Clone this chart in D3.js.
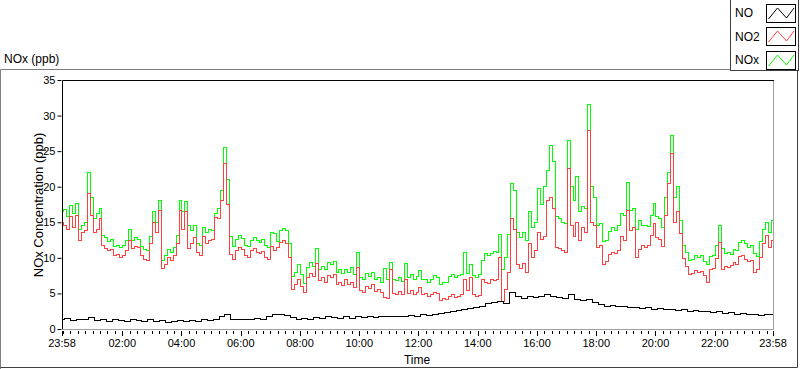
<!DOCTYPE html>
<html>
<head>
<meta charset="utf-8">
<script src="https://d3js.org/d3.v7.min.js"></script>
<style>
  body { margin: 0; background: #fff; }
  text { font-family: "Liberation Sans", Arial, sans-serif; fill: #000; }
</style>
</head>
<body>
<div id="chart"></div>
<script>
// series names / colours as in the legend
var seriesNames = ["NO", "NO2", "NOx"];
var seriesColors = ["#000000", "#ff4040", "#00ff00"];

// time base: first sample at 23:58, samples every N minutes
var startTime = "2000-01-01 23:58";
var endTime = "2000-01-02 23:58";
var stepNO = 12;
var stepNO2 = 6;
var stepNOx = 6;

var xTickLabels = ["23:58", "02:00", "04:00", "06:00", "08:00", "10:00", "12:00",
                   "14:00", "16:00", "18:00", "20:00", "22:00", "23:58"];
var yTicks = [0, 5, 10, 15, 20, 25, 30, 35];

var noValues = [
  1.3,1.5,1.2,1.4,1.3,1.6,1.2,1.3,1.1,1.3,
  1.2,1.1,1.3,1.2,1.0,1.3,1.1,1.2,0.9,1.1,
  1.2,1.0,1.2,1.1,1.3,1.2,1.4,1.7,2.1,1.4,
  1.3,1.4,1.3,1.5,1.4,1.8,2.1,2.0,1.9,1.6,
  1.3,1.5,1.4,1.6,1.5,1.7,1.6,1.5,1.7,1.5,
  1.7,1.6,1.7,1.6,1.8,1.7,1.7,1.8,1.7,1.9,
  1.8,2.0,1.9,2.1,2.2,2.3,2.5,2.6,2.7,2.9,
  3.0,3.2,3.6,3.7,3.9,3.6,5.2,4.6,4.3,4.5,
  4.4,4.6,4.8,4.5,4.4,4.3,4.8,4.2,4.0,4.1,
  3.7,3.4,3.2,3.3,3.1,3.2,3.0,3.0,2.9,3.0,
  2.8,2.9,2.7,2.8,2.6,2.7,2.5,2.6,2.4,2.4,
  2.3,2.4,2.2,2.3,2.1,2.2,2.0,2.1,1.9,2.0,
  2.0
];

var no2Values = [
  15.0,14.5,14.0,15.8,14.3,16.0,12.5,13.5,13.8,19.0,
  16.0,13.5,14.0,15.5,11.8,11.3,11.0,11.2,10.3,10.5,
  10.1,10.4,11.0,12.5,11.3,11.6,11.4,10.3,9.8,9.6,
  12.0,15.0,13.5,16.7,8.5,9.0,10.0,9.6,10.3,12.0,
  16.7,14.0,16.5,11.3,12.0,12.8,10.8,10.3,13.0,12.0,
  12.4,12.6,15.7,15.5,18.0,23.3,17.5,10.5,9.8,11.0,
  11.5,11.2,10.3,10.0,11.1,11.3,10.8,10.6,10.9,10.0,
  9.8,11.6,11.0,11.4,12.2,12.4,12.0,10.0,5.5,6.2,
  7.0,6.0,5.2,7.2,7.8,7.4,9.2,6.8,7.3,6.6,
  7.5,7.2,7.6,6.3,6.6,6.1,6.9,6.2,6.6,5.8,
  8.7,5.4,5.2,6.0,5.7,6.2,5.3,5.6,5.1,4.4,
  4.3,8.3,5.0,4.8,5.3,4.9,6.9,5.0,5.4,4.8,
  5.2,5.8,4.8,5.0,4.6,4.9,5.2,5.0,4.0,4.3,
  4.1,4.6,4.8,4.4,4.5,4.8,6.9,5.4,7.3,4.8,
  4.5,4.7,7.0,6.6,6.4,7.0,6.8,7.0,10.0,3.8,
  5.5,8.0,15.5,14.0,9.0,8.5,9.2,8.0,12.0,10.0,
  11.0,13.5,12.6,13.0,18.0,18.5,17.0,11.5,11.3,11.0,
  10.8,22.5,14.5,13.0,15.0,12.5,14.3,13.5,27.9,15.0,
  14.5,11.5,11.8,9.0,9.5,10.5,10.8,10.6,11.0,13.0,
  12.5,16.7,13.8,14.2,10.0,11.2,11.7,11.5,11.8,13.1,
  14.8,12.9,12.6,11.6,16.0,20.5,24.6,15.0,16.5,13.4,
  9.9,8.8,7.6,7.8,8.2,8.0,8.1,7.5,6.6,8.3,
  8.5,9.9,12.1,8.4,8.8,8.6,8.9,9.3,9.0,10.2,
  10.4,9.8,9.5,9.6,8.0,8.3,10.0,12.0,13.2,11.5,
  12.5
];

var noxValues = [
  16.5,16.8,15.8,17.4,16.2,17.6,14.0,14.6,15.0,22.0,
  18.5,15.5,16.3,17.0,13.2,12.8,12.3,12.6,11.6,11.8,
  11.4,11.7,12.4,14.0,12.4,12.9,12.6,11.6,11.2,11.0,
  13.0,16.5,15.0,18.0,9.6,10.3,11.2,10.8,11.5,13.2,
  18.0,16.5,17.9,14.5,13.8,14.5,12.0,11.8,14.2,13.5,
  14.0,13.8,16.3,17.0,19.5,25.5,21.0,13.0,11.6,12.6,
  13.1,12.7,11.8,11.6,12.5,12.8,12.4,12.2,12.6,11.8,
  11.5,13.6,13.4,12.3,13.8,14.1,13.8,12.0,7.4,8.0,
  9.0,7.6,6.4,8.6,9.3,8.8,11.3,8.4,8.8,8.3,
  9.4,9.0,9.5,8.0,8.3,7.8,8.3,8.0,8.6,7.6,
  10.8,7.2,6.9,7.8,7.4,8.0,7.0,7.3,6.6,8.5,
  6.9,9.4,7.0,6.8,7.2,6.7,9.2,7.2,7.6,6.9,
  7.4,8.2,6.9,7.0,6.6,7.0,7.5,7.2,6.3,6.6,
  6.5,7.4,7.6,7.2,7.5,7.7,10.8,7.8,9.0,7.5,
  7.3,7.6,9.6,10.6,10.4,10.6,10.9,10.7,13.3,8.3,
  10.0,13.3,20.5,19.5,13.5,12.8,13.5,12.5,16.5,14.2,
  15.0,19.7,17.5,20.0,22.3,25.8,23.5,15.8,15.5,15.0,
  14.8,26.5,20.0,18.0,21.5,16.5,17.2,17.0,31.5,20.0,
  18.5,14.5,14.8,12.3,12.5,13.7,14.2,13.8,14.5,16.2,
  16.0,20.6,16.7,17.0,14.0,15.3,14.5,14.6,14.4,15.9,
  17.6,15.8,15.6,14.3,18.5,22.0,27.2,18.5,20.0,15.3,
  11.8,10.8,9.6,9.8,10.4,10.0,10.4,9.5,9.0,10.2,
  10.4,11.7,14.6,11.3,10.6,10.8,10.5,11.2,11.0,12.2,
  12.5,12.0,11.5,11.8,10.6,10.2,12.3,14.0,15.0,13.5,
  15.3
];

var W = 800, H = 369;
var plot = {left: 62, top: 80, right: 773, bottom: 329};

var parse = d3.timeParse("%Y-%m-%d %H:%M");
var t0 = parse(startTime), t1 = parse(endTime);

function toPoints(vals, step) {
  return vals.map(function(v, i) {
    return {t: new Date(t0.getTime() + i * step * 60000), v: v};
  });
}

var series = [
  {name: "NOx", color: seriesColors[2], pts: toPoints(noxValues, stepNOx)},
  {name: "NO2", color: seriesColors[1], pts: toPoints(no2Values, stepNO2)},
  {name: "NO",  color: seriesColors[0], pts: toPoints(noValues, stepNO)}
];

var svg = d3.select("#chart").append("svg")
  .attr("width", W).attr("height", H);

svg.append("rect").attr("width", W).attr("height", H).attr("fill", "#fff");

var x = d3.scaleTime().domain([t0, t1]).range([plot.left, plot.right]);
var y = d3.scaleLinear().domain([0, 35]).range([plot.bottom, plot.top]);

// outer frame
svg.append("path")
  .attr("d", "M0.5,369 V69.5 H730")
  .attr("fill", "none").attr("stroke", "#808080");
svg.append("path")
  .attr("d", "M0.5,367.5 H797.5 V70")
  .attr("fill", "none").attr("stroke", "#404040");

// title
svg.append("text").attr("x", 4).attr("y", 63)
  .style("font-size", "12px").text("NOx (ppb)");

// plotting area lines
var clip = svg.append("clipPath").attr("id", "clip")
  .append("rect").attr("x", plot.left + 1).attr("y", plot.top)
  .attr("width", plot.right - plot.left - 1).attr("height", plot.bottom - plot.top);

var line = d3.line()
  .x(function(d) { return x(d.t); })
  .y(function(d) { return y(d.v); })
  .curve(d3.curveStep);

svg.append("g").attr("clip-path", "url(#clip)")
  .selectAll("path").data(series).enter().append("path")
  .attr("d", function(s) { return line(s.pts); })
  .attr("fill", "none")
  .attr("stroke", function(s) { return s.color; })
  .attr("stroke-width", 1)
  .attr("shape-rendering", "crispEdges");

// plot border: black left/top, grey right/bottom
svg.append("path")
  .attr("d", "M" + (plot.left + 0.5) + "," + (plot.bottom + 1) + " V" + (plot.top + 0.5) + " H" + (plot.right + 1))
  .attr("fill", "none").attr("stroke", "#000");
svg.append("path")
  .attr("d", "M" + (plot.left) + "," + (plot.bottom + 0.5) + " H" + (plot.right + 0.5) + " V" + (plot.top + 1))
  .attr("fill", "none").attr("stroke", "#a0a0a0");

// y axis
var yAxis = svg.append("g").attr("transform", "translate(" + (plot.left - 0.5) + ",0)")
  .call(d3.axisLeft(y).tickValues(yTicks).tickSize(4).tickPadding(2));
yAxis.select(".domain").remove();
yAxis.selectAll("text").style("font-size", "11px").attr("font-family", null);
yAxis.selectAll("line").attr("stroke", "#000");

// x axis: minor ticks each 15 minutes, labelled majors
var xg = svg.append("g");
var minor = d3.timeMinute.every(15).range(t0, t1);
xg.selectAll("line.minor").data(minor).enter().append("line")
  .attr("x1", function(d) { return Math.round(x(d)) + 0.5; })
  .attr("x2", function(d) { return Math.round(x(d)) + 0.5; })
  .attr("y1", plot.bottom + 2).attr("y2", plot.bottom + 5)
  .attr("stroke", "#000");

var majors = xTickLabels.map(function(lbl, i) {
  if (i === 0) return {t: t0, lbl: lbl};
  if (i === xTickLabels.length - 1) return {t: t1, lbl: lbl};
  var hm = lbl.split(":");
  var d = new Date(t0.getTime());
  d.setDate(d.getDate() + 1);
  d.setHours(+hm[0], +hm[1], 0, 0);
  return {t: d, lbl: lbl};
});
xg.selectAll("line.major").data(majors).enter().append("line")
  .attr("x1", function(d) { return Math.round(x(d.t)) + 0.5; })
  .attr("x2", function(d) { return Math.round(x(d.t)) + 0.5; })
  .attr("y1", plot.bottom + 2).attr("y2", plot.bottom + 7)
  .attr("stroke", "#000");
xg.selectAll("text").data(majors).enter().append("text")
  .attr("x", function(d) { return x(d.t); })
  .attr("y", plot.bottom + 18)
  .attr("text-anchor", "middle")
  .style("font-size", "11px")
  .text(function(d) { return d.lbl; });

// axis titles
svg.append("text").attr("x", 417).attr("y", 364).attr("text-anchor", "middle")
  .style("font-size", "12px").text("Time");
svg.append("text").attr("transform", "translate(43,205) rotate(-90)")
  .attr("text-anchor", "middle").style("font-size", "13px")
  .text("NOx Concentration (ppb)");

// legend
var lg = svg.append("g");
lg.append("rect").attr("x", 730.5).attr("y", -1).attr("width", 68).attr("height", 71.5)
  .attr("fill", "#fff").attr("stroke", "#404040");
seriesNames.forEach(function(name, i) {
  var top = 3.5 + i * 23.5;
  lg.append("text").attr("x", 735).attr("y", top + 13.5)
    .style("font-size", "12px").text(name);
  lg.append("rect").attr("x", 766.5).attr("y", Math.round(top) + 0.5)
    .attr("width", 29).attr("height", 18)
    .attr("fill", "#fff").attr("stroke", "#000");
  var r = Math.round(top);
  lg.append("polyline")
    .attr("points", [[768.5, r + 15], [777.5, r + 4], [786.5, r + 14], [794, r + 4]].join(" "))
    .attr("fill", "none").attr("stroke", seriesColors[i]);
});
</script>
</body>
</html>
